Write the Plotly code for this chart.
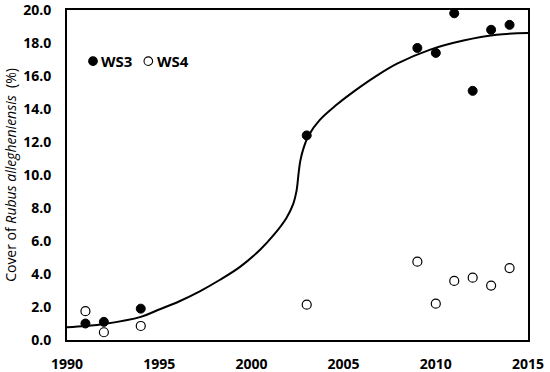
import plotly.graph_objects as go

years = [1991, 1992, 1994, 2003, 2009, 2010, 2011, 2012, 2013, 2014]
ws3 = [1.0, 1.1, 1.9, 12.4, 17.7, 17.4, 19.8, 15.1, 18.8, 19.1]
ws4 = [1.75, 0.47, 0.85, 2.14, 4.75, 2.2, 3.58, 3.78, 3.3, 4.36]

# fitted curve
fit_x = [1990.0, 1991.0, 1992.0, 1994.0, 1995.0, 1996.1, 1997.2, 1998.3, 1999.4,
         2000.5, 2001.2, 2001.9, 2002.27, 2002.45, 2002.53, 2002.58, 2002.66,
         2002.82, 2003.1, 2003.7, 2004.6, 2005.6, 2006.7, 2007.9, 2009.7, 2011.5,
         2013.3, 2015.0]
fit_y = [0.77, 0.85, 0.97, 1.4, 1.85, 2.35, 2.95, 3.65, 4.45,
         5.5, 6.35, 7.4, 8.25, 9.05, 9.8, 10.3, 10.9,
         11.6, 12.4, 13.33, 14.24, 15.1, 15.95, 16.75, 17.6, 18.15,
         18.5, 18.6]

x_ticks = [1990, 1995, 2000, 2005, 2010, 2015]
y_ticks = [0, 2, 4, 6, 8, 10, 12, 14, 16, 18, 20]
legend_names = ["WS3", "WS4"]

FONT = "Open Sans"

fig = go.Figure()
fig.add_trace(go.Scatter(x=fit_x, y=fit_y, mode="lines",
                         line=dict(color="black", width=2, shape="spline", smoothing=1.0),
                         showlegend=False, hoverinfo="skip"))
fig.add_trace(go.Scatter(x=years, y=ws3, mode="markers", name=legend_names[0],
                         showlegend=False,
                         marker=dict(symbol="circle", size=9, color="black",
                                     line=dict(color="black", width=1))))
fig.add_trace(go.Scatter(x=years, y=ws4, mode="markers", name=legend_names[1],
                         showlegend=False,
                         marker=dict(symbol="circle", size=9, color="white",
                                     line=dict(color="black", width=1.2))))

# compact legend (keys + labels) placed inside the plot, top-left
leg_y = 0.845
keys = [(0.0564, "black"), (0.1764, "white")]
for (kx, fillc), name in zip(keys, legend_names):
    fig.add_shape(type="circle", xref="paper", yref="paper",
                  xsizemode="pixel", ysizemode="pixel",
                  xanchor=kx, yanchor=leg_y, x0=-4.3, x1=4.3, y0=-4.3, y1=4.3,
                  fillcolor=fillc, line=dict(color="black", width=1.1))
    fig.add_annotation(xref="paper", yref="paper", x=kx + 0.014, y=leg_y,
                       xanchor="left", yanchor="middle", showarrow=False,
                       text=f"<b>{name}</b>",
                       font=dict(family=FONT, size=15, color="black"))

fig.update_layout(
    width=550, height=372,
    margin=dict(l=67, r=22, t=10, b=32, autoexpand=False),
    paper_bgcolor="white", plot_bgcolor="white",
    font=dict(family=FONT, size=14, color="black"),
    showlegend=False,
    xaxis=dict(range=[1990, 2015], tickvals=x_ticks,
               showgrid=False, zeroline=False, showline=True, linecolor="black",
               linewidth=2, mirror=True, ticks="", ticklabelstandoff=10,
               automargin=False, ticklabeloverflow="allow",
               tickfont=dict(family=FONT, size=14, weight="bold")),
    yaxis=dict(range=[0, 20], tickvals=y_ticks, tickformat=".1f",
               showgrid=False, zeroline=False, showline=True, linecolor="black",
               linewidth=2, mirror=True, ticks="", ticklabelstandoff=11,
               automargin=False, ticklabeloverflow="allow",
               tickfont=dict(family=FONT, size=14, weight="bold"),
               title=dict(text="Cover of <i>Rubus allegheniensis</i>  (%)",
                          font=dict(family=FONT, size=14), standoff=3)),
)

fig.write_html("out.html", config={"displayModeBar": False},
               post_script="document.body.style.margin='0';document.body.style.overflow='hidden';")
